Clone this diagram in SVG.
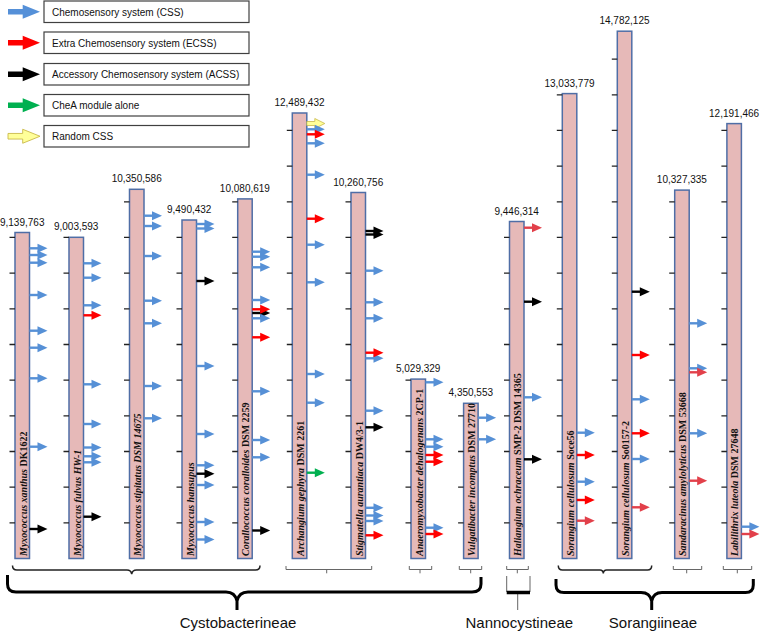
<svg xmlns="http://www.w3.org/2000/svg" width="760" height="632" viewBox="0 0 760 632">
<style>
.bar{fill:#E6B9B8;stroke:#4F6EA6;stroke-width:1.5}
.tk{fill:none;stroke:#222;stroke-width:1.3}
.num{font-family:"Liberation Sans",Arial,sans-serif;font-size:10px;fill:#111;text-anchor:middle}
.lab{font-family:"Liberation Serif","Times New Roman",serif;font-size:10px;font-weight:bold;fill:#111}
.lab .it{font-style:italic}
.lg{font-family:"Liberation Sans",Arial,sans-serif;font-size:10px;fill:#111}
.box{fill:#fff;stroke:#404040;stroke-width:1.2}
.b{color:#5690D6}
.r{color:#FF0000}
.R{color:#E2404A}
.k{color:#000}
.g{color:#00B050}
.br{fill:none;stroke:#666;stroke-width:1}
.brd{fill:none;stroke:#222;stroke-width:1.5}
.big{fill:none;stroke:#000;stroke-width:3}
.clade{font-family:"Liberation Sans",Arial,sans-serif;font-size:15px;fill:#111;text-anchor:middle}
</style>
<defs>
<g id="a"><path d="M0,0H9" stroke="currentColor" stroke-width="2.4"/><path d="M8,-4.5L18,0L8,4.5Z" fill="currentColor"/></g>
<g id="ay"><path d="M0,-2H8V-5L18,0L8,5V2H0Z" fill="#FFFF99" stroke="#C9B94A" stroke-width="0.8"/></g>
<path id="la" d="M8,-2.8H22.7V-7L40,0L22.7,7V2.8H8Z"/>
</defs>

<g id="legend">
<g id="leg-css"><rect class="box" x="44" y="1" width="205" height="21.5"/><use href="#la" y="11.75" fill="#5590D8"/><text class="lg" x="52" y="15.5">Chemosensory system (CSS)</text></g>
<g id="leg-ecss"><rect class="box" x="44" y="32" width="205" height="21.5"/><use href="#la" y="42.75" fill="#FF0000"/><text class="lg" x="52" y="46.5">Extra Chemosensory system (ECSS)</text></g>
<g id="leg-acss"><rect class="box" x="44" y="63.5" width="205" height="21.5"/><use href="#la" y="74.25" fill="#000"/><text class="lg" x="52" y="78">Accessory Chemosensory system (ACSS)</text></g>
<g id="leg-chea"><rect class="box" x="44" y="94.5" width="205" height="21.5"/><use href="#la" y="105.25" fill="#00B050"/><text class="lg" x="52" y="109">CheA module alone</text></g>
<g id="leg-rand"><rect class="box" x="44" y="125.5" width="205" height="21.5"/><use href="#la" y="136.25" fill="#FFFF99" stroke="#C9B94A" stroke-width="0.9"/><text class="lg" x="52" y="140">Random CSS</text></g>
</g>

<g id="bar1">
<rect class="bar" x="15" y="232.5" width="14.5" height="326"/>
<path class="tk" d="M9.5,522.83H15M9.5,487.16H15M9.5,451.49H15M9.5,415.82H15M9.5,380.15H15M9.5,344.48H15M9.5,308.81H15M9.5,273.14H15M9.5,237.47H15"/>
<text class="num" x="22.2" y="225.5">9,139,763</text>
<text class="lab" transform="translate(26.5,556) rotate(-90)"><tspan class="it">Myxococcus xanthus</tspan> DK1622</text>
<g transform="translate(29.5,0)">
<use href="#a" class="b" y="248.3"/><use href="#a" class="b" y="255"/><use href="#a" class="b" y="262.7"/><use href="#a" class="b" y="295"/><use href="#a" class="b" y="330.7"/><use href="#a" class="b" y="347.7"/><use href="#a" class="b" y="378.3"/><use href="#a" class="b" y="446.7"/><use href="#a" class="k" y="529"/>
</g>
</g>

<g id="bar2">
<rect class="bar" x="69" y="237.3" width="14.5" height="321.2"/>
<path class="tk" d="M63.5,522.83H69M63.5,487.16H69M63.5,451.49H69M63.5,415.82H69M63.5,380.15H69M63.5,344.48H69M63.5,308.81H69M63.5,273.14H69M63.5,237.47H69"/>
<text class="num" x="76.2" y="230.3">9,003,593</text>
<text class="lab" transform="translate(80.5,556) rotate(-90)"><tspan class="it">Myxococcus fulvus HW-1</tspan></text>
<g transform="translate(83.5,0)">
<use href="#a" class="b" y="263.3"/><use href="#a" class="b" y="277.7"/><use href="#a" class="b" y="305.3"/><use href="#a" class="r" y="315.3"/><use href="#a" class="b" y="384.3"/><use href="#a" class="b" y="424"/><use href="#a" class="b" y="447.5"/><use href="#a" class="b" y="456.3"/><use href="#a" class="b" y="462.3"/><use href="#a" class="k" y="516.7"/>
</g>
</g>

<g id="bar3">
<rect class="bar" x="129.5" y="189.3" width="14.5" height="369.2"/>
<path class="tk" d="M124,522.83H129.5M124,487.16H129.5M124,451.49H129.5M124,415.82H129.5M124,380.15H129.5M124,344.48H129.5M124,308.81H129.5M124,273.14H129.5M124,237.47H129.5M124,201.8H129.5"/>
<text class="num" x="136.7" y="182.3">10,350,586</text>
<text class="lab" transform="translate(141,556) rotate(-90)"><tspan class="it">Myxococcus stipitatus DSM 14675</tspan></text>
<g transform="translate(144,0)">
<use href="#a" class="b" y="215.7"/><use href="#a" class="b" y="226"/><use href="#a" class="b" y="256"/><use href="#a" class="b" y="300.7"/><use href="#a" class="b" y="323.3"/><use href="#a" class="b" y="386"/><use href="#a" class="b" y="418.3"/>
</g>
</g>

<g id="bar4">
<rect class="bar" x="182" y="220" width="14.5" height="338.5"/>
<path class="tk" d="M176.5,522.83H182M176.5,487.16H182M176.5,451.49H182M176.5,415.82H182M176.5,380.15H182M176.5,344.48H182M176.5,308.81H182M176.5,273.14H182M176.5,237.47H182"/>
<text class="num" x="189.2" y="213">9,490,432</text>
<text class="lab" transform="translate(193.5,556) rotate(-90)"><tspan class="it">Myxococcus hansupus</tspan></text>
<g transform="translate(196.5,0)">
<use href="#a" class="b" y="224"/><use href="#a" class="b" y="228.5"/><use href="#a" class="k" y="281"/><use href="#a" class="b" y="366"/><use href="#a" class="b" y="434"/><use href="#a" class="b" y="465.3"/><use href="#a" class="k" y="473.7"/><use href="#a" class="b" y="485"/><use href="#a" class="b" y="522"/><use href="#a" class="b" y="539.5"/>
</g>
</g>

<g id="bar5">
<rect class="bar" x="237.7" y="198.9" width="14.5" height="359.6"/>
<path class="tk" d="M232.2,522.83H237.7M232.2,487.16H237.7M232.2,451.49H237.7M232.2,415.82H237.7M232.2,380.15H237.7M232.2,344.48H237.7M232.2,308.81H237.7M232.2,273.14H237.7M232.2,237.47H237.7M232.2,201.8H237.7"/>
<text class="num" x="244.9" y="191.9">10,080,619</text>
<text class="lab" transform="translate(249.2,556) rotate(-90)"><tspan class="it">Corallococcus coralloides</tspan> DSM 2259</text>
<g transform="translate(252.2,0)">
<use href="#a" class="b" y="251.7"/><use href="#a" class="b" y="256.7"/><use href="#a" class="b" y="267.3"/><use href="#a" class="b" y="300"/><use href="#a" class="k" y="313"/><use href="#a" class="b" y="318.3"/><use href="#a" class="r" y="309.3"/><use href="#a" class="r" y="337.3"/><use href="#a" class="b" y="391.3"/><use href="#a" class="b" y="440"/><use href="#a" class="b" y="457.3"/><use href="#a" class="k" y="530.5"/>
</g>
</g>

<g id="bar6">
<rect class="bar" x="292.3" y="113" width="14.5" height="445.5"/>
<path class="tk" d="M286.8,522.83H292.3M286.8,487.16H292.3M286.8,451.49H292.3M286.8,415.82H292.3M286.8,380.15H292.3M286.8,344.48H292.3M286.8,308.81H292.3M286.8,273.14H292.3M286.8,237.47H292.3M286.8,201.8H292.3M286.8,166.13H292.3M286.8,130.46H292.3"/>
<text class="num" x="299.5" y="106">12,489,432</text>
<text class="lab" transform="translate(303.8,556) rotate(-90)"><tspan class="it">Archangium gephyra</tspan> DSM 2261</text>
<g transform="translate(306.8,0)">
<use href="#ay" y="123.5"/><use href="#a" class="b" y="129.3"/><use href="#a" class="r" y="134.3"/><use href="#a" class="b" y="143.3"/><use href="#a" class="b" y="174.7"/><use href="#a" class="r" y="218.7"/><use href="#a" class="b" y="244.7"/><use href="#a" class="b" y="282.3"/><use href="#a" class="b" y="374"/><use href="#a" class="b" y="402.7"/><use href="#a" class="g" y="472.7"/>
</g>
</g>

<g id="bar7">
<rect class="bar" x="351" y="192.5" width="14.5" height="366"/>
<path class="tk" d="M345.5,522.83H351M345.5,487.16H351M345.5,451.49H351M345.5,415.82H351M345.5,380.15H351M345.5,344.48H351M345.5,308.81H351M345.5,273.14H351M345.5,237.47H351M345.5,201.8H351"/>
<text class="num" x="358.2" y="185.5">10,260,756</text>
<text class="lab" transform="translate(362.5,556) rotate(-90)"><tspan class="it">Stigmatella aurantiaca</tspan> DW4/3-1</text>
<g transform="translate(365.5,0)">
<use href="#a" class="k" y="231"/><use href="#a" class="k" y="234.5"/><use href="#a" class="b" y="270.7"/><use href="#a" class="b" y="302.3"/><use href="#a" class="b" y="318.3"/><use href="#a" class="b" y="358.3"/><use href="#a" class="r" y="352.7"/><use href="#a" class="b" y="410.7"/><use href="#a" class="k" y="427.3"/><use href="#a" class="b" y="507.8"/><use href="#a" class="b" y="515.5"/><use href="#a" class="b" y="521"/><use href="#a" class="r" y="535.3"/>
</g>
</g>

<g id="bar8">
<rect class="bar" x="411" y="379.1" width="14.5" height="179.4"/>
<path class="tk" d="M405.5,522.83H411M405.5,487.16H411M405.5,451.49H411M405.5,415.82H411M405.5,380.15H411"/>
<text class="num" x="418.2" y="372.1">5,029,329</text>
<text class="lab" transform="translate(422.5,556) rotate(-90)"><tspan class="it">Anaeromyxobacter dehalogenans</tspan> 2CP-1</text>
<g transform="translate(425.5,0)">
<use href="#a" class="b" y="382.3"/><use href="#a" class="b" y="439.3"/><use href="#a" class="b" y="446.7"/><use href="#a" class="r" y="455"/><use href="#a" class="r" y="461.7"/><use href="#a" class="b" y="527.7"/><use href="#a" class="r" y="534"/>
</g>
</g>

<g id="bar9">
<rect class="bar" x="463.6" y="403.3" width="14.5" height="155.2"/>
<path class="tk" d="M458.1,522.83H463.6M458.1,487.16H463.6M458.1,451.49H463.6M458.1,415.82H463.6"/>
<text class="num" x="470.8" y="396.3">4,350,553</text>
<text class="lab" transform="translate(475.1,556) rotate(-90)"><tspan class="it">Vulgatibacter incomptus</tspan> DSM 27710</text>
<g transform="translate(478.1,0)">
<use href="#a" class="b" y="417.7"/><use href="#a" class="b" y="439.3"/>
</g>
</g>

<g id="bar10">
<rect class="bar" x="509.5" y="221.5" width="14.5" height="337"/>
<path class="tk" d="M504,522.83H509.5M504,487.16H509.5M504,451.49H509.5M504,415.82H509.5M504,380.15H509.5M504,344.48H509.5M504,308.81H509.5M504,273.14H509.5M504,237.47H509.5"/>
<text class="num" x="516.7" y="214.5">9,446,314</text>
<text class="lab" transform="translate(521,556) rotate(-90)"><tspan class="it">Haliangium ochraceum</tspan> SMP-2 DSM 14365</text>
<g transform="translate(524,0)">
<use href="#a" class="R" y="227.7"/><use href="#a" class="k" y="301.7"/><use href="#a" class="b" y="397.3"/><use href="#a" class="k" y="459.3"/>
</g>
</g>

<g id="bar11">
<rect class="bar" x="562.3" y="93.6" width="14.5" height="464.9"/>
<path class="tk" d="M556.8,522.83H562.3M556.8,487.16H562.3M556.8,451.49H562.3M556.8,415.82H562.3M556.8,380.15H562.3M556.8,344.48H562.3M556.8,308.81H562.3M556.8,273.14H562.3M556.8,237.47H562.3M556.8,201.8H562.3M556.8,166.13H562.3M556.8,130.46H562.3M556.8,94.79H562.3"/>
<text class="num" x="569.5" y="86.6">13,033,779</text>
<text class="lab" transform="translate(573.8,556) rotate(-90)"><tspan class="it">Sorangium cellulosum</tspan> Soce56</text>
<g transform="translate(576.8,0)">
<use href="#a" class="b" y="432.7"/><use href="#a" class="r" y="455"/><use href="#a" class="b" y="481.7"/><use href="#a" class="r" y="500"/><use href="#a" class="R" y="520.7"/>
</g>
</g>

<g id="bar12">
<rect class="bar" x="617.3" y="31.2" width="14.5" height="527.3"/>
<path class="tk" d="M611.8,522.83H617.3M611.8,487.16H617.3M611.8,451.49H617.3M611.8,415.82H617.3M611.8,380.15H617.3M611.8,344.48H617.3M611.8,308.81H617.3M611.8,273.14H617.3M611.8,237.47H617.3M611.8,201.8H617.3M611.8,166.13H617.3M611.8,130.46H617.3M611.8,94.79H617.3M611.8,59.12H617.3"/>
<text class="num" x="624.5" y="24.2">14,782,125</text>
<text class="lab" transform="translate(628.8,556) rotate(-90)"><tspan class="it">Sorangium cellulosum</tspan> So0157-2</text>
<g transform="translate(631.8,0)">
<use href="#a" class="k" y="291.7"/><use href="#a" class="r" y="355"/><use href="#a" class="b" y="399.3"/><use href="#a" class="r" y="433.3"/><use href="#a" class="b" y="459"/><use href="#a" class="R" y="507.3"/>
</g>
</g>

<g id="bar13">
<rect class="bar" x="674.7" y="190.1" width="14.5" height="368.4"/>
<path class="tk" d="M669.2,522.83H674.7M669.2,487.16H674.7M669.2,451.49H674.7M669.2,415.82H674.7M669.2,380.15H674.7M669.2,344.48H674.7M669.2,308.81H674.7M669.2,273.14H674.7M669.2,237.47H674.7M669.2,201.8H674.7"/>
<text class="num" x="681.9" y="183.1">10,327,335</text>
<text class="lab" transform="translate(686.2,556) rotate(-90)"><tspan class="it">Sandaracinus amylolyticus</tspan> DSM 53668</text>
<g transform="translate(689.2,0)">
<use href="#a" class="b" y="323.3"/><use href="#a" class="b" y="368.3"/><use href="#a" class="R" y="372.3"/><use href="#a" class="b" y="433.3"/><use href="#a" class="R" y="480.7"/>
</g>
</g>

<g id="bar14">
<rect class="bar" x="726.9" y="123.6" width="14.5" height="434.9"/>
<path class="tk" d="M721.4,522.83H726.9M721.4,487.16H726.9M721.4,451.49H726.9M721.4,415.82H726.9M721.4,380.15H726.9M721.4,344.48H726.9M721.4,308.81H726.9M721.4,273.14H726.9M721.4,237.47H726.9M721.4,201.8H726.9M721.4,166.13H726.9M721.4,130.46H726.9"/>
<text class="num" x="734.1" y="116.6">12,191,466</text>
<text class="lab" transform="translate(738.4,556) rotate(-90)"><tspan class="it">Labilithrix luteola</tspan> DSM 27648</text>
<g transform="translate(741.4,0)">
<use href="#a" class="b" y="526.7"/><use href="#a" class="R" y="534"/>
</g>
</g>

<g id="connectors">
<path class="brd" d="M12.5,565.5Q12.5,570 17,570H127Q131,570 131.7,574Q132.4,570 136.5,570H255.5Q260,570 260,565.5"/>
<path class="br" d="M286,566V569.5H371.7V566M326.7,569.5V573.3"/>
<path class="br" d="M409.3,566V569.5H431.7V566M420,569.5V573.3"/>
<path class="br" d="M459.3,566V569.5H481.7V566M470.7,569.5V573.3"/>
<path class="br" d="M506.7,566V569.5H528.3V566M517.3,569.5V573.3"/>
<path class="brd" d="M558.3,565.5Q558.3,570 562.5,570H600Q603,570 603.3,573.5Q603.6,570 606.5,570H647.5Q651.7,570 651.7,565.5"/>
<path class="br" d="M673.3,566V569.5H701.7V566M686.7,569.5V573.3"/>
<path class="br" d="M723.3,566V569.5H751.7V566M737.3,569.5V573.3"/>
<path class="big" d="M7.5,575V584Q7.5,592 16,592H226Q235,592 237,601Q239,592 248,592H472Q481,592 481,584V577M237,600V610"/>
<path class="br" d="M506.7,576V592M530,576V592M517.7,593V610"/>
<path d="M506.7,592.5H530" stroke="#000" stroke-width="3.5"/>
<path class="big" d="M556,579V585Q556,592.5 564,592.5H641Q650,592.5 651.7,601Q653.4,592.5 662,592.5H745.5Q753.3,592.5 753.3,585V579M651.7,600V610"/>
</g>

<text class="clade" x="238" y="628">Cystobacterineae</text>
<text class="clade" x="519.3" y="628">Nannocystineae</text>
<text class="clade" x="653" y="628">Sorangiineae</text>
</svg>
